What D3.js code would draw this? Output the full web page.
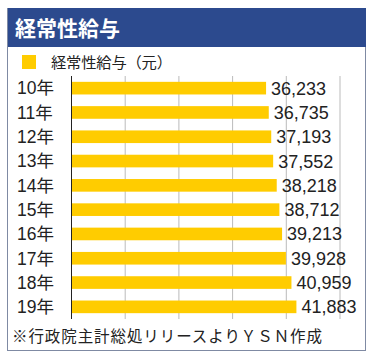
<!DOCTYPE html>
<html>
<head>
<meta charset="utf-8">
<script src="https://cdn.jsdelivr.net/npm/d3@7"></script>
<style>
  body { margin: 0; background: #fff; }
  text { font-family: "Noto Sans CJK JP", "Noto Sans", sans-serif; }
  .num { font-family: "Liberation Sans", Arial, sans-serif; }
</style>
</head>
<body>
<div id="chart"></div>
<script>
const width = 376;
const height = 362;

const title = "経常性給与";
const seriesName = "経常性給与（元）";
const years = ["10年", "11年", "12年", "13年", "14年", "15年", "16年", "17年", "18年", "19年"];
const values = [36233, 36735, 37193, 37552, 38218, 38712, 39213, 39928, 40959, 41883];
const gridTicks = [10000, 20000, 30000, 40000, 50000];
const note = "※行政院主計総処リリースよりＹＳＮ作成";

const barColor = "#ffcc00";
const headColor = "#2c4a8e";

const svg = d3.select("#chart")
    .append("svg")
    .attr("width", width)
    .attr("height", height);

// frame
svg.append("rect")
    .attr("x", 7.5).attr("y", 8.5)
    .attr("width", 358).attr("height", 342)
    .attr("fill", "#fff")
    .attr("stroke", "#7f8aa3");

svg.append("rect")
    .attr("x", 8).attr("y", 8)
    .attr("width", 358).attr("height", 39)
    .attr("fill", headColor);

svg.append("text")
    .attr("x", 15).attr("y", 36)
    .attr("fill", "#fff")
    .attr("font-size", 21)
    .attr("font-weight", "bold")
    .attr("textLength", 105)
    .text(title);

// legend
svg.append("rect")
    .attr("x", 22).attr("y", 55)
    .attr("width", 14).attr("height", 14)
    .attr("fill", barColor);

svg.append("text")
    .attr("x", 51).attr("y", 68)
    .attr("font-size", 15.3)
    .attr("fill", "#222")
    .attr("textLength", 121)
    .text(seriesName);

const x = d3.scaleLinear()
    .domain([0, 50000])
    .range([71.5, 340]);

const y = d3.scaleBand()
    .domain(years)
    .range([76, 319])
    .paddingInner(0.48)
    .paddingOuter(0.24);

// grid
svg.selectAll(".grid")
    .data(gridTicks)
    .join("line")
    .attr("class", "grid")
    .attr("x1", d => x(d)).attr("x2", d => x(d))
    .attr("y1", 76).attr("y2", 319)
    .attr("stroke", "#bbb")
    .attr("stroke-width", 1);

svg.selectAll(".bar")
    .data(values)
    .join("rect")
    .attr("class", "bar")
    .attr("x", x(0))
    .attr("y", (d, i) => y(years[i]))
    .attr("width", d => x(d) - x(0))
    .attr("height", y.bandwidth())
    .attr("fill", barColor);

// axis line
svg.append("line")
    .attr("x1", x(0)).attr("x2", x(0))
    .attr("y1", 76).attr("y2", 319)
    .attr("stroke", "#222");

const cat = svg.selectAll(".cat")
    .data(years)
    .join("text")
    .attr("class", "cat")
    .attr("x", 17)
    .attr("y", d => y(d) + y.bandwidth() / 2)
    .attr("dy", "0.36em")
    .attr("font-size", 17.5)
    .attr("fill", "#222");
cat.append("tspan").attr("class", "num").text(d => d.slice(0, 2));
cat.append("tspan").text(d => d.slice(2));

svg.selectAll(".val")
    .data(values)
    .join("text")
    .attr("class", "val num")
    .attr("x", d => x(d) + 5)
    .attr("y", (d, i) => y(years[i]) + y.bandwidth() / 2)
    .attr("dy", "0.36em")
    .attr("font-size", 18)
    .attr("fill", "#222")
    .text(d => d3.format(",")(d));

svg.append("text")
    .attr("x", 12).attr("y", 342)
    .attr("font-size", 15.5)
    .attr("fill", "#222")
    .attr("textLength", 310)
    .text(note);
</script>
</body>
</html>
